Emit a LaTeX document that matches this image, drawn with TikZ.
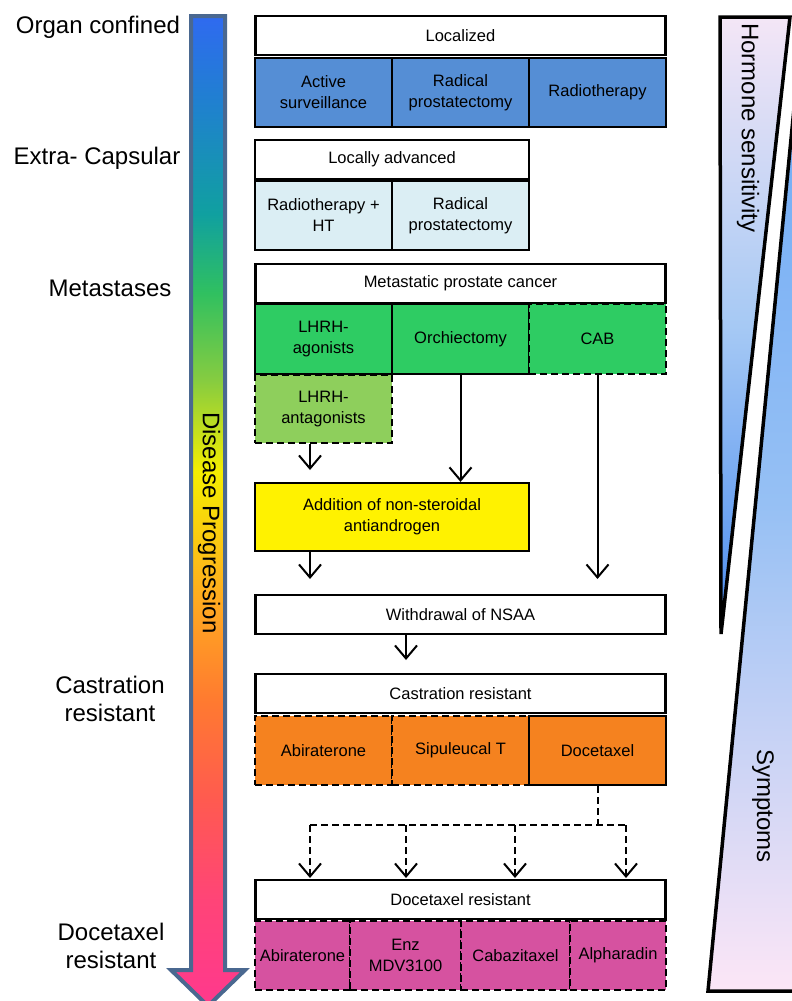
\documentclass[tikz,border=0pt]{standalone}
\usepackage{fontspec}
\setmainfont{Liberation Sans}
\usetikzlibrary{arrows.meta}
\definecolor{locblue}{HTML}{558ED5}
\definecolor{advblue}{HTML}{DBEEF4}
\definecolor{metgreen}{HTML}{2ECC63}
\definecolor{antgreen}{HTML}{8ECF5C}
\definecolor{crorange}{HTML}{F5821F}
\definecolor{drpink}{HTML}{D652A0}
\definecolor{arrowrim}{HTML}{4A6890}
\definecolor{hstop}{HTML}{F4E6F6}
\definecolor{hsmid}{HTML}{A6C9F4}
\definecolor{hsbot}{HTML}{4A8CF0}
\definecolor{sytop}{HTML}{6AA8F6}
\definecolor{symid}{HTML}{96C0F4}
\definecolor{sybot}{HTML}{FCE6F6}
\definecolor{pg0}{HTML}{FF3A8A}
\definecolor{pg1}{HTML}{FF4478}
\definecolor{pg2}{HTML}{FF5A50}
\definecolor{pg3}{HTML}{FF7A30}
\definecolor{pg4}{HTML}{FFAA20}
\definecolor{pg5}{HTML}{F5EE00}
\definecolor{pg6}{HTML}{86CC40}
\definecolor{pg7}{HTML}{30C060}
\definecolor{pg8}{HTML}{10A0A0}
\definecolor{pg9}{HTML}{2080D0}
\definecolor{pg10}{HTML}{2F6AF0}
\pgfdeclareverticalshading{progression}{100bp}{color(0bp)=(pg0); color(25.8bp)=(pg0); color(30.3bp)=(pg1); color(35.4bp)=(pg2); color(40.4bp)=(pg3); color(45.5bp)=(pg4); color(52bp)=(pg5); color(56.6bp)=(pg6); color(61bp)=(pg7); color(65bp)=(pg8); color(70.7bp)=(pg9); color(75bp)=(pg10); color(100bp)=(pg10)}
\begin{document}
\begin{tikzpicture}[x=1pt,y=-1pt,
  cell/.style={draw,line width=2.2pt,minimum height=69pt,inner sep=0pt,align=center,font=\fontsize{16.5}{21}\selectfont},
  head/.style={cell,fill=white,minimum height=39pt},
  dashcell/.style={cell,dash pattern=on 7pt off 4pt},
  stage/.style={align=center,font=\fontsize{24}{28}\selectfont},
  side/.style={rotate=-90,font=\fontsize{24}{26}\selectfont},
  link/.style={line width=2pt,-{Straight Barb[length=13pt,width=22pt]}},
  dlink/.style={link,dash pattern=on 7pt off 4pt}]
\useasboundingbox (0,0) rectangle (792,1001);
\begin{scope}
\clip (0,0) rectangle (792,1001);
\shadedraw[top color=sytop,bottom color=sybot,middle color=symid,line width=3.5pt] (708,991) -- (803,16) -- (803,991) -- cycle;
\shadedraw[top color=hstop,bottom color=hsbot,middle color=hsmid,line width=3.5pt] (720,17) -- (790,17) -- (721,634) -- cycle;
\shadedraw[shading=progression,draw=arrowrim,line width=4pt] (191,16) -- (225,16) -- (225,970) -- (245,970) -- (208,1006) -- (171,970) -- (191,970) -- cycle;
\end{scope}
\node[side] (hormone) at (748,128) {Hormone sensitivity};
\node[side] (symptoms) at (763,806) {Symptoms};
\node[rotate=-90,font=\fontsize{24}{28}\selectfont] (disease) at (209,523) {Disease Progression};
\node[stage] (organ) at (98,27) {Organ confined};
\node[stage] (extra) at (97,158) {Extra- Capsular};
\node[stage] (metas) at (110,288) {Metastases};
\node[stage] (castr) at (110,699) {Castration\\resistant};
\node[stage] (docr) at (111,946) {Docetaxel\\resistant};
\node[head,minimum width=410pt] (loc) at (460.5,35.5) {Localized};
\node[cell,fill=locblue,minimum width=137pt] (activ) at (323.5,92.5) {Active\\surveillance};
\node[cell,fill=locblue,minimum width=137pt] (radpr) at (460.5,92.5) {Radical\\prostatectomy};
\node[cell,fill=locblue,minimum width=137pt] (radio) at (597.5,92.5) {Radiotherapy};
\node[head,minimum width=274pt] (locadv) at (392,159.5) {Locally advanced};
\node[cell,fill=advblue,minimum width=137pt] (rtht) at (323.5,215.5) {Radiotherapy +\\HT};
\node[cell,fill=advblue,minimum width=137pt] (radprb) at (460.5,215.5) {Radical\\prostatectomy};
\node[head,minimum width=410pt] (meta) at (460.5,283.5) {Metastatic prostate cancer};
\node[cell,fill=metgreen,minimum width=137pt,minimum height=70pt] (agon) at (323.5,339) {LHRH-\\agonists};
\node[cell,fill=metgreen,minimum width=137pt,minimum height=70pt] (orch) at (460.5,339) {Orchiectomy};
\node[dashcell,fill=metgreen,minimum width=137pt,minimum height=70pt] (cab) at (597.5,339) {CAB};
\node[dashcell,fill=antgreen,minimum width=137pt,minimum height=68pt] (antag) at (323.5,409) {LHRH-\\antagonists};
\node[cell,fill=yellow,minimum width=274pt,minimum height=68pt] (nsaa) at (392,517) {Addition of non-steroidal\\antiandrogen};
\node[head,minimum width=410pt] (withd) at (460.5,614.5) {Withdrawal of NSAA};
\node[head,minimum width=410pt] (crpc) at (460.5,693.5) {Castration resistant};
\node[dashcell,fill=crorange,minimum width=137pt] (abir) at (323.5,750.5) {Abiraterone};
\node[dashcell,fill=crorange,minimum width=137pt] (sipu) at (460.5,750.5) {Sipuleucal T};
\node[cell,fill=crorange,minimum width=137pt] (doce) at (597.5,750.5) {Docetaxel};
\node[head,minimum width=410pt] (docres) at (460.5,899.5) {Docetaxel resistant};
\node[dashcell,fill=drpink,minimum width=95pt] (abirb) at (302.5,955.5) {Abiraterone};
\node[dashcell,fill=drpink,minimum width=111pt] (enz) at (405.5,955.5) {Enz\\MDV3100};
\node[dashcell,fill=drpink,minimum width=109pt] (caba) at (515.5,955.5) {Cabazitaxel};
\node[dashcell,fill=drpink,minimum width=96pt] (alpha) at (618,955.5) {Alpharadin};
\coordinate (antagend) at (310,470);
\coordinate (nsaaend) at (310,579);
\coordinate (cabend) at (597.5,579);
\coordinate (withdend) at (406,660);
\coordinate (split) at (597.5,825);
\draw[link] (antag.south -| antagend) -- (antagend);
\draw[link] (orch.south) -- (orch.south |- nsaa.north);
\draw[link] (nsaa.south -| nsaaend) -- (nsaaend);
\draw[link] (cab.south) -- (cabend);
\draw[link] (withd.south -| withdend) -- (withdend);
\draw[line width=2pt,dash pattern=on 7pt off 4pt] (doce.south) -- (split);
\draw[line width=2pt,dash pattern=on 7pt off 4pt] (310,825) -- (626,825);
\foreach \x in {310,406,515,626}
  \draw[dlink] (\x,825) -- (\x,878);
\end{tikzpicture}
\end{document}
